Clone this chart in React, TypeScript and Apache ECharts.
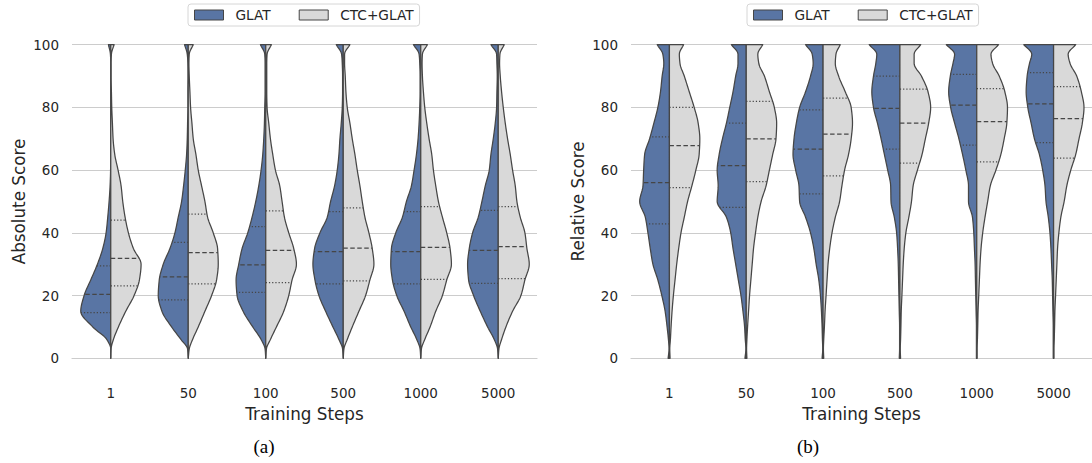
import React, { useEffect, useRef } from "react";
import * as echarts from "echarts";

// ---------------- data ----------------
const CATEGORIES = ["1", "50", "100", "500", "1000", "5000"];
const SERIES_NAMES = ["GLAT", "CTC+GLAT"];

// score levels at which the violin density profiles are read
const Y_LEVELS = [0, 3, 6, 10, 15, 20, 25, 30, 35, 40, 45, 50, 55, 60, 65, 70, 75, 80, 85, 90, 94, 97, 100];

// relative density (half-width) profiles, one row per training-step category
const ABS_GLAT_DENSITY = [
  [0, 0, 12, 54, 90, 80, 60, 40, 24, 14, 9, 5, 2, 0.5, 0, 0, 0, 0, 0, 0, 0, 1, 7],
  [0, 2, 22, 50, 79, 90, 87, 75, 55, 40, 30, 20, 14, 9, 5, 3, 2, 1, 1, 0.5, 1, 3, 11],
  [0, 2, 14, 39, 68, 86, 89, 81, 71, 54, 41, 30, 21, 14, 9, 6, 4, 3, 2, 2, 2, 3, 16],
  [0, 2, 13, 31, 53, 73, 85, 91, 86, 70, 48, 38, 26, 18, 13, 10, 6, 3, 2, 2, 3, 5, 21],
  [0, 2, 12, 30, 50, 72, 85, 90, 88, 75, 55, 43, 28, 20, 13, 8, 5, 3, 2, 2, 3, 5, 22],
  [0, 2, 12, 32, 54, 74, 89, 92, 87, 77, 60, 49, 39, 27, 22, 15, 9, 5, 4, 3, 4, 5, 22],
];
const ABS_CTC_DENSITY = [
  [0, 1, 8, 23, 45, 70, 86, 91, 68, 53, 43, 36, 31, 22, 12, 7, 5, 3, 2, 1, 1, 2, 10],
  [0, 3, 13, 30, 50, 70, 85, 90, 88, 75, 58, 50, 40, 30, 23, 15, 11, 7, 5, 3, 2, 3, 15],
  [0, 2, 14, 32, 54, 69, 79, 92, 84, 69, 56, 49, 42, 29, 21, 14, 9, 4, 3, 3, 3, 4, 17],
  [0, 2, 12, 27, 47, 67, 80, 92, 87, 77, 65, 57, 50, 42, 35, 27, 20, 12, 8, 6, 4, 4, 20],
  [0, 2, 12, 28, 45, 65, 78, 92, 88, 78, 65, 53, 45, 38, 33, 25, 18, 12, 8, 5, 4, 5, 20],
  [0, 2, 10, 23, 43, 68, 80, 93, 86, 80, 66, 56, 51, 43, 36, 28, 21, 15, 10, 6, 4, 5, 18],
];
const REL_GLAT_DENSITY = [
  [4, 1, 3, 7, 13, 23, 35, 50, 58, 65, 73, 90, 80, 78, 75, 60, 47, 35, 27, 22, 17, 20, 37],
  [4, 1, 3, 5, 10, 16, 24, 32, 40, 47, 60, 88, 85, 88, 82, 72, 60, 50, 40, 32, 25, 25, 45],
  [3, 1, 2, 3, 5, 8, 13, 21, 28, 38, 53, 71, 73, 83, 91, 88, 81, 71, 53, 38, 30, 33, 53],
  [2, 1, 1, 1, 2, 3, 4, 5, 7, 10, 17, 27, 28, 37, 47, 57, 68, 80, 85, 80, 73, 70, 93],
  [1, 1, 1, 1, 2, 3, 4, 5, 7, 9, 13, 25, 25, 33, 43, 54, 67, 79, 85, 80, 72, 67, 92],
  [1, 1, 1, 1, 2, 3, 4, 6, 8, 11, 16, 23, 26, 33, 43, 58, 68, 78, 83, 80, 73, 66, 90],
];
const REL_CTC_DENSITY = [
  [2, 1, 3, 5, 8, 12, 17, 22, 28, 35, 45, 55, 68, 80, 90, 92, 87, 75, 60, 45, 32, 30, 43],
  [2, 1, 2, 4, 7, 10, 14, 18, 22, 28, 35, 45, 60, 70, 80, 90, 92, 85, 70, 55, 38, 35, 50],
  [2, 1, 2, 4, 6, 9, 12, 15, 20, 27, 37, 50, 57, 65, 77, 85, 89, 85, 67, 47, 37, 39, 52],
  [2, 1, 2, 3, 4, 6, 8, 10, 13, 18, 27, 35, 40, 53, 67, 77, 87, 93, 85, 65, 43, 43, 63],
  [1, 1, 2, 3, 4, 6, 8, 10, 13, 18, 25, 33, 41, 58, 73, 83, 91, 93, 85, 68, 48, 43, 66],
  [1, 1, 2, 3, 4, 6, 8, 10, 12, 16, 22, 32, 40, 52, 67, 77, 87, 92, 84, 70, 50, 44, 67],
];

// quartiles (Q1, median, Q3) per category
const ABS_GLAT_Q1 = [14.6, 18.6, 21.0, 23.7, 23.7, 23.9];
const ABS_GLAT_MED = [20.4, 26.0, 29.8, 34.0, 34.0, 34.4];
const ABS_GLAT_Q3 = [29.5, 37.0, 42.0, 46.8, 46.8, 47.2];
const ABS_CTC_Q1 = [23.1, 23.7, 24.1, 24.7, 25.2, 25.4];
const ABS_CTC_MED = [31.9, 33.7, 34.4, 35.1, 35.4, 35.6];
const ABS_CTC_Q3 = [44.1, 46.0, 47.0, 48.0, 48.4, 48.4];
const REL_GLAT_Q1 = [42.9, 48.1, 52.4, 66.7, 68.0, 68.8];
const REL_GLAT_MED = [56.0, 61.4, 66.7, 79.7, 80.7, 81.1];
const REL_GLAT_Q3 = [70.6, 75.0, 79.2, 90.0, 90.5, 91.1];
const REL_CTC_Q1 = [54.4, 56.3, 58.2, 62.2, 62.6, 63.8];
const REL_CTC_MED = [67.8, 70.0, 71.5, 75.0, 75.5, 76.4];
const REL_CTC_Q3 = [80.0, 81.9, 83.0, 85.8, 86.0, 86.6];

// ---------------- styling ----------------
const BLUE = "#5975a4";
const GRAY = "#d9d9d9";
const EDGE = "#464646";
const TEXT = "#262626";
const GRID = "#cccccc";
const DENSITY_PER_BAND = 232.5; // density units that equal one category band width

function tangents(xs: number[], ys: number[]) {
  const n = xs.length;
  const d: number[] = [];
  for (let i = 0; i < n - 1; i++) d.push((ys[i + 1] - ys[i]) / (xs[i + 1] - xs[i]));
  const m: number[] = new Array(n).fill(0);
  m[0] = d[0];
  m[n - 1] = d[n - 2];
  for (let i = 1; i < n - 1; i++) {
    if (d[i - 1] * d[i] <= 0) m[i] = 0;
    else {
      const h0 = xs[i] - xs[i - 1];
      const h1 = xs[i + 1] - xs[i];
      const w1 = 2 * h1 + h0;
      const w2 = h1 + 2 * h0;
      m[i] = (w1 + w2) / (w1 / d[i - 1] + w2 / d[i]);
    }
  }
  return m;
}

function evalCurve(xs: number[], ys: number[], m: number[], x: number) {
  let i = 0;
  while (i < xs.length - 2 && x > xs[i + 1]) i++;
  const h = xs[i + 1] - xs[i];
  const t = Math.min(1, Math.max(0, (x - xs[i]) / h));
  const t2 = t * t;
  const t3 = t2 * t;
  return (
    (2 * t3 - 3 * t2 + 1) * ys[i] +
    (t3 - 2 * t2 + t) * h * m[i] +
    (-2 * t3 + 3 * t2) * ys[i + 1] +
    (t3 - t2) * h * m[i + 1]
  );
}

function makeRenderItem(dens: number[][], q1: number[], med: number[], q3: number[], side: number) {
  return (params: any, api: any) => {
    const i = api.value(0);
    const cx = api.coord([i, 0])[0];
    const band = api.size([1, 0])[0];
    const k = band / DENSITY_PER_BAND;
    const prof = dens[i];
    const m = tangents(Y_LEVELS, prof);
    const w = (v: number) => Math.max(0, evalCurve(Y_LEVELS, prof, m, v)) * k;
    const yOf = (v: number) => api.coord([i, v])[1];
    const pts: number[][] = [[cx, yOf(0)]];
    for (let v = 0; v <= 100.0001; v += 0.5) pts.push([cx + side * w(v), yOf(v)]);
    pts.push([cx, yOf(100)]);
    const children: any[] = [
      {
        type: "polygon",
        shape: { points: pts },
        style: { fill: api.visual("color"), stroke: EDGE, lineWidth: 1.25, lineJoin: "round" },
      },
    ];
    [q1[i], med[i], q3[i]].forEach((q, j) => {
      children.push({
        type: "line",
        shape: { x1: cx, y1: yOf(q), x2: cx + side * w(q), y2: yOf(q) },
        style: { stroke: EDGE, lineWidth: 1.25, lineDash: j === 1 ? [4.5, 2.5] : [1.2, 2] },
      });
    });
    return { type: "group", children };
  };
}

function violinSeries(name: string, color: string, axis: number, dens: number[][], q1: number[], med: number[], q3: number[], side: number) {
  return {
    type: "custom",
    name,
    xAxisIndex: axis,
    yAxisIndex: axis,
    itemStyle: { color, borderColor: EDGE, borderWidth: 1 },
    encode: { x: 0, y: [1, 2] },
    data: CATEGORIES.map((c, i) => [i, 0, 100]),
    renderItem: makeRenderItem(dens, q1, med, q3, side),
    silent: true,
  };
}

const xAxisBase = {
  type: "category",
  data: CATEGORIES,
  offset: 16,
  axisLine: { lineStyle: { color: GRID, width: 1.2 } },
  axisTick: { show: false },
  axisLabel: { color: TEXT, fontSize: 13.5, margin: 12 },
  name: "Training Steps",
  nameLocation: "middle",
  nameGap: 30,
  nameTextStyle: { color: TEXT, fontSize: 16.8 },
};

const yAxisBase = {
  type: "value",
  min: 0,
  max: 100,
  interval: 20,
  axisLine: { show: false },
  axisTick: { show: false },
  axisLabel: { color: TEXT, fontSize: 13.5, margin: 13 },
  splitLine: { lineStyle: { color: GRID, width: 1.2 } },
  nameLocation: "middle",
  nameGap: 45,
  nameTextStyle: { color: TEXT, fontSize: 16.8 },
};

const legendBase = {
  data: SERIES_NAMES,
  top: 4,
  icon: "rect",
  itemWidth: 29,
  itemHeight: 10,
  itemGap: 28,
  padding: [4, 6],
  backgroundColor: "#ffffff",
  borderColor: "#d6d6d6",
  borderWidth: 1,
  borderRadius: 3,
  itemStyle: { borderColor: EDGE, borderWidth: 1 },
  textStyle: { color: TEXT, fontSize: 13.7, padding: [0, 0, 0, 7] },
  selectedMode: false,
};

export default function App() {
  const ref = useRef<HTMLDivElement>(null);
  useEffect(() => {
    if (!ref.current) return;
    const chart = echarts.init(ref.current, undefined, { renderer: "svg" });
    chart.setOption({
      animation: false,
      textStyle: { fontFamily: "DejaVu Sans" },
      grid: [
        { left: 72, top: 44.7, width: 465, height: 313.6 },
        { left: 631, top: 44.7, width: 465, height: 313.6 },
      ],
      xAxis: [
        { ...xAxisBase, gridIndex: 0 },
        { ...xAxisBase, gridIndex: 1 },
      ],
      yAxis: [
        { ...yAxisBase, gridIndex: 0, name: "Absolute Score" },
        { ...yAxisBase, gridIndex: 1, name: "Relative Score" },
      ],
      legend: [
        { ...legendBase, left: 188 },
        { ...legendBase, left: 747 },
      ],
      series: [
        violinSeries("GLAT", BLUE, 0, ABS_GLAT_DENSITY, ABS_GLAT_Q1, ABS_GLAT_MED, ABS_GLAT_Q3, -1),
        violinSeries("CTC+GLAT", GRAY, 0, ABS_CTC_DENSITY, ABS_CTC_Q1, ABS_CTC_MED, ABS_CTC_Q3, 1),
        violinSeries("GLAT", BLUE, 1, REL_GLAT_DENSITY, REL_GLAT_Q1, REL_GLAT_MED, REL_GLAT_Q3, -1),
        violinSeries("CTC+GLAT", GRAY, 1, REL_CTC_DENSITY, REL_CTC_Q1, REL_CTC_MED, REL_CTC_Q3, 1),
      ],
      graphic: [
        {
          type: "text",
          x: 264,
          y: 446,
          style: { text: "(a)", fontFamily: "Liberation Serif", fontSize: 19, fill: "#000", align: "center", verticalAlign: "middle" },
        },
        {
          type: "text",
          x: 808,
          y: 446,
          style: { text: "(b)", fontFamily: "Liberation Serif", fontSize: 19, fill: "#000", align: "center", verticalAlign: "middle" },
        },
      ],
    });
    return () => chart.dispose();
  }, []);
  return <div ref={ref} style={{ position: "absolute", left: 0, top: 0, width: 1092, height: 463 }} />;
}
